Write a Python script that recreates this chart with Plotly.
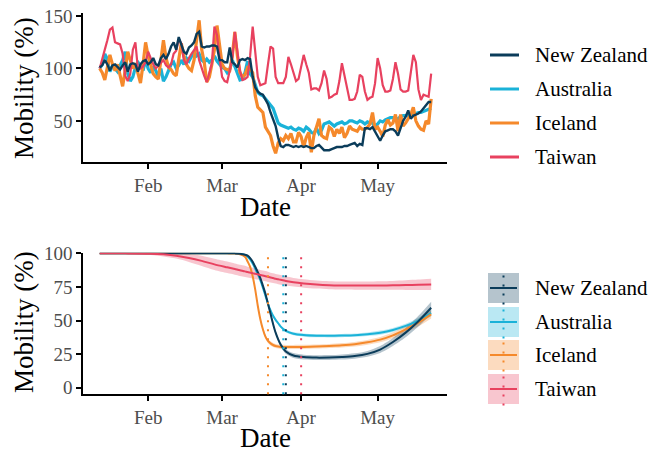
import pandas as pd
import plotly.graph_objects as go

# ---------------- data ----------------
countries = ["New Zealand", "Australia", "Iceland", "Taiwan"]
line_colors = ["#0b3c5a", "#1ab2d8", "#f5892b", "#e8415f"]
fill_colors = ["rgba(11,60,90,0.3)", "rgba(26,178,216,0.3)", "rgba(245,137,43,0.3)", "rgba(232,65,95,0.3)"]

start_date = "2020-01-13"
n_days = 131
dates = pd.date_range(start_date, periods=n_days, freq="D")

mob_nz = [101, 103, 108, 104, 98, 103, 104, 101, 99, 103,
          106, 97, 104, 105, 104, 97, 104, 107, 108, 104,
          106, 110, 104, 103, 110, 113, 109, 114, 121, 125,
          118, 130, 122, 116, 114, 120, 122, 125, 133, 135,
          121, 120, 121, 121, 122, 122, 121, 108, 108, 106,
          106, 120, 106, 104, 101, 108, 109, 108, 110, 109,
          92, 82, 78, 76, 75, 71, 66, 58, 52, 45,
          34, 26, 25, 27, 27, 26, 25, 26, 25, 26,
          25, 26, 25, 24, 24, 26, 27, 24, 22, 22,
          22, 23, 24, 25, 25, 25, 26, 26, 27, 28,
          29, 26, 28, 27, 43, 43, 42, 44, 40, 36,
          31, 36, 40, 41, 42, 42, 40, 36, 44, 50,
          54, 60, 52, 55, 56, 57, 59, 62, 64, 68,
          68]
mob_au = [100, 104, 114, 109, 97, 102, 100, 97, 103, 108,
          116, 95, 88, 92, 101, 106, 103, 98, 108, 100,
          96, 102, 98, 92, 100, 88, 92, 99, 104, 106,
          100, 103, 108, 104, 110, 107, 112, 116, 112, 114,
          108, 106, 109, 106, 108, 112, 107, 104, 101, 100,
          96, 99, 108, 102, 96, 89, 90, 96, 107, 95,
          92, 84, 77, 75, 74, 71, 68, 66, 62, 55,
          48, 46, 45, 44, 43, 44, 42, 41, 43, 42,
          40, 44, 42, 39, 38, 43, 38, 41, 47, 48,
          49, 47, 45, 47, 48, 49, 47, 48, 50, 50,
          49, 48, 50, 49, 47, 49, 48, 48, 45, 47,
          50, 49, 51, 52, 53, 53, 52, 52, 54, 55,
          55, 55, 56, 57, 57, 58, 58, 59, 60, 61,
          62]
mob_ic = [100, 96, 89, 100, 113, 104, 98, 104, 94, 83,
          98, 116, 108, 100, 105, 95, 86, 104, 125, 112,
          104, 95, 92, 90, 108, 127, 110, 101, 99, 95,
          93, 108, 124, 112, 104, 100, 98, 108, 130, 146,
          118, 106, 87, 92, 104, 118, 141, 120, 104, 100,
          99, 98, 112, 135, 112, 96, 92, 94, 101, 100,
          96, 74, 63, 60, 58, 44, 40, 36, 26, 19,
          29, 33, 31, 36, 33, 38, 30, 30, 39, 35,
          25, 34, 39, 20, 36, 44, 52, 36, 34, 33,
          44, 42, 35, 42, 38, 44, 34, 38, 45, 42,
          41, 40, 44, 42, 42, 44, 47, 58, 42, 44,
          40, 35, 46, 51, 46, 48, 56, 40, 56, 45,
          48, 52, 56, 63, 50, 45, 42, 41, 50, 47,
          71]
mob_tw = [100, 108, 118, 127, 137, 139, 125, 124, 123, 114,
          93, 88, 95, 118, 125, 99, 100, 102, 106, 116,
          110, 104, 100, 103, 106, 108, 103, 101, 104, 114,
          117, 128, 124, 108, 104, 110, 114, 118, 121, 108,
          100, 93, 87, 95, 105, 140, 132, 110, 92, 88,
          87, 98, 110, 135, 118, 98, 89, 90, 92, 112,
          140, 118, 92, 84, 85, 86, 104, 121, 119, 92,
          86, 86, 86, 92, 111, 104, 95, 88, 90, 103,
          113, 104, 96, 80, 81, 81, 79, 86, 98, 90,
          72, 73, 75, 76, 88, 105, 93, 79, 70, 70,
          71, 78, 94, 92, 78, 70, 72, 73, 86, 110,
          100, 84, 78, 78, 79, 90, 106, 95, 80, 78,
          78, 79, 96, 113, 106, 80, 70, 75, 74, 73,
          95]

# fitted model (bottom panel), days since start_date
fit_days = [0, 10, 20, 25, 30, 35, 40, 45, 50, 53, 55, 57, 58, 59, 60, 61, 62, 63, 64, 65,
            66, 67, 68, 69, 70, 71, 73, 76, 80, 85, 90, 95, 100, 105, 110, 115, 120, 125, 130]
fit_nz = [100, 100, 100, 100, 100, 100, 100, 100, 100, 100, 99.8, 99, 98.3, 96.5, 93.8, 90, 86, 81.5, 76, 70,
          62.5, 55, 47.5, 41, 36, 32, 27, 24, 22.8, 22.4, 22.5, 22.9, 23.6, 25.2, 28.4, 34, 41, 49.5, 59.5]
fit_au = [100, 100, 100, 100, 100, 100, 100, 100, 100, 100, 99.8, 98.8, 97.5, 95.5, 92.5, 88.5, 84.5, 80, 74.5, 68.5,
          62.5, 57.5, 53.5, 50.5, 48, 45.5, 42.3, 40.2, 39.2, 38.7, 38.6, 38.8, 39.1, 39.8, 41, 43, 46, 50, 55.5]
fit_ic = [100, 100, 100, 100, 100, 100, 100, 100, 100, 99.9, 99.4, 97.5, 94, 90, 83, 73, 61, 51, 43.5, 38,
          34.8, 33, 31.8, 31, 30.6, 30.4, 30.3, 30.3, 30.4, 30.7, 31.1, 31.6, 32.4, 33.8, 35.8, 39, 43.5, 48.5, 54.6]
fit_tw = [100, 100, 99.8, 99.3, 98.3, 96.6, 94.4, 91.8, 89.6, 88.3, 87.4, 86.6, 86.1, 85.7, 85.3, 84.8, 84.4, 83.9, 83.5, 83,
          82.5, 82, 81.6, 81.1, 80.7, 80.3, 79.5, 78.5, 77.6, 76.8, 76.3, 76.1, 76, 76, 76.1, 76.2, 76.4, 76.6, 76.9]
band_nz = [0, 0, 0, 0, 0, 0, 0, 0, 0, 0, 0.2, 0.5, 0.6, 0.8, 1, 1.1, 1.2, 1.3, 1.4, 1.5,
           1.5, 1.5, 1.5, 1.5, 1.5, 1.6, 1.7, 1.8, 1.8, 1.8, 1.8, 1.9, 2, 2.2, 2.6, 3, 3.5, 4, 4.5]
band_au = [0, 0, 0, 0, 0, 0, 0, 0, 0, 0, 0.2, 0.5, 0.6, 0.8, 1, 1, 1, 1, 1, 1,
           1, 1, 1, 1, 1, 1, 1.1, 1.2, 1.2, 1.2, 1.2, 1.2, 1.2, 1.3, 1.5, 1.5, 1.6, 2, 2.5]
band_ic = [0, 0, 0, 0, 0, 0, 0, 0, 0, 0.2, 0.4, 0.8, 1, 1.2, 1.2, 1.2, 1.3, 1.4, 1.5, 1.5,
           1.5, 1.5, 1.5, 1.5, 1.5, 1.5, 1.5, 1.5, 1.5, 1.5, 1.5, 1.6, 1.7, 1.8, 2, 2.2, 2.5, 2.8, 3]
band_tw = [0, 0.3, 1, 1.6, 2.2, 3, 3.8, 4.2, 4.3, 4.2, 4.2, 4.2, 4, 4, 4, 4, 3.8, 3.8, 3.8, 3.8,
           3.8, 3.6, 3.6, 3.6, 3.6, 3.6, 3.4, 3.2, 3.1, 3, 3, 3, 3, 3, 3.1, 3.3, 3.6, 3.9, 4.2]

lockdown_dates = ["2020-03-26", "2020-03-25", "2020-03-19", "2020-04-01"]

month_ticks = ["2020-02-01", "2020-03-01", "2020-04-01", "2020-05-01"]
month_labels = ["Feb", "Mar", "Apr", "May"]
top_yticks = [50, 100, 150]
bottom_yticks = [0, 25, 50, 75, 100]

mobility = [mob_nz, mob_au, mob_ic, mob_tw]
fits = [fit_nz, fit_au, fit_ic, fit_tw]
bands = [band_nz, band_au, band_ic, band_tw]

# ---------------- figure ----------------
W, H = 652, 452
FONT = "Liberation Serif"


def pxx(x):
    return x / W


def pxy(y):
    return 1 - y / H


fit_dates = pd.Timestamp(start_date) + pd.to_timedelta(fit_days, unit="D")

fig = go.Figure()

# top panel lines (draw order: Australia, Iceland, Taiwan, NZ)
top_widths = [2.4, 3.2, 3.2, 2.2]
for i in [1, 2, 3, 0]:
    fig.add_trace(go.Scatter(x=dates, y=mobility[i], mode="lines", name=countries[i],
                             line=dict(color=line_colors[i], width=top_widths[i]),
                             showlegend=False, xaxis="x", yaxis="y"))

# bottom ribbons
for i in [1, 2, 0, 3]:
    lo = [f - b for f, b in zip(fits[i], bands[i])]
    hi = [f + b for f, b in zip(fits[i], bands[i])]
    fig.add_trace(go.Scatter(x=fit_dates, y=lo, mode="lines", line=dict(width=0, shape="spline", smoothing=0.8),
                             showlegend=False, hoverinfo="skip", xaxis="x2", yaxis="y2"))
    fig.add_trace(go.Scatter(x=fit_dates, y=hi, mode="lines", line=dict(width=0, shape="spline", smoothing=0.8),
                             fill="tonexty", fillcolor=fill_colors[i],
                             showlegend=False, hoverinfo="skip", xaxis="x2", yaxis="y2"))
# bottom fitted lines
for i in [1, 2, 0, 3]:
    fig.add_trace(go.Scatter(x=fit_dates, y=fits[i], mode="lines", name=countries[i],
                             line=dict(color=line_colors[i], width=2, shape="spline", smoothing=0.8),
                             showlegend=False, xaxis="x2", yaxis="y2"))

shapes = []
DOT = "2px,7px"
# lockdown vertical dotted lines
for i in range(4):
    shapes.append(dict(type="line", xref="x2", yref="y2 domain", x0=lockdown_dates[i], x1=lockdown_dates[i],
                       y0=0, y1=1, line=dict(color=line_colors[i], width=2, dash=DOT), layer="above"))

annotations = []
# top legend
top_leg_y = [55, 89, 123, 157]
for i in range(4):
    y = top_leg_y[i]
    shapes.append(dict(type="line", xref="paper", yref="paper", x0=pxx(490), x1=pxx(519),
                       y0=pxy(y), y1=pxy(y), line=dict(color=line_colors[i], width=3)))
    annotations.append(dict(x=pxx(533), y=pxy(y), xref="paper", yref="paper", text=countries[i],
                            showarrow=False, xanchor="left", yanchor="middle",
                            font=dict(family=FONT, size=21, color="black")))

# bottom legend
bot_leg_y = [288, 322, 355, 389]
for i in range(4):
    y = bot_leg_y[i]
    shapes.append(dict(type="rect", xref="paper", yref="paper", x0=pxx(488), x1=pxx(519),
                       y0=pxy(y + 15), y1=pxy(y - 15), fillcolor=fill_colors[i], line=dict(width=0)))
    shapes.append(dict(type="line", xref="paper", yref="paper", x0=pxx(503.5), x1=pxx(503.5),
                       y0=pxy(y + 16.5), y1=pxy(y - 16.5), line=dict(color=line_colors[i], width=2, dash=DOT)))
    shapes.append(dict(type="line", xref="paper", yref="paper", x0=pxx(490), x1=pxx(517),
                       y0=pxy(y), y1=pxy(y), line=dict(color=line_colors[i], width=2)))
    annotations.append(dict(x=pxx(533), y=pxy(y), xref="paper", yref="paper", text=countries[i],
                            showarrow=False, xanchor="left", yanchor="middle",
                            font=dict(family=FONT, size=21, color="black")))

# axis titles
for yc in [88, 322]:
    annotations.append(dict(x=pxx(24), y=pxy(yc), xref="paper", yref="paper", text="Mobility (%)",
                            textangle=-90, showarrow=False, xanchor="center", yanchor="middle",
                            font=dict(family=FONT, size=27, color="black")))
for yc in [207, 438]:
    annotations.append(dict(x=pxx(265), y=pxy(yc), xref="paper", yref="paper", text="Date",
                            showarrow=False, xanchor="center", yanchor="middle",
                            font=dict(family=FONT, size=27, color="black")))

x_range = ["2020-01-06 13:40", "2020-05-28 05:00"]
xdom = [pxx(83.3), pxx(447)]
common_x = dict(range=x_range, domain=xdom, tickvals=month_ticks, ticktext=month_labels,
                showline=True, linecolor="black", linewidth=2, ticks="outside", ticklen=5,
                tickwidth=1.5, tickcolor="black", showgrid=False, zeroline=False,
                tickfont=dict(family=FONT, size=19, color="#4d4d4d"), automargin=False)
common_y = dict(showline=True, linecolor="black", linewidth=2, ticks="outside", ticklen=5,
                tickwidth=1.5, tickcolor="black", showgrid=False, zeroline=False,
                tickfont=dict(family=FONT, size=19, color="#4d4d4d"), automargin=False)

fig.update_layout(
    width=W, height=H,
    margin=dict(l=0, r=0, t=0, b=0),
    paper_bgcolor="white", plot_bgcolor="white",
    showlegend=False,
    xaxis=dict(anchor="y", **common_x),
    yaxis=dict(anchor="x", domain=[pxy(161.7), pxy(13.3)], range=[11, 152.7], tickvals=top_yticks, **common_y),
    xaxis2=dict(anchor="y2", **common_x),
    yaxis2=dict(anchor="x2", domain=[pxy(394.3), pxy(252.7)], range=[-4.9, 100.5], tickvals=bottom_yticks, **common_y),
    shapes=shapes,
    annotations=annotations,
    font=dict(family=FONT),
)

fig.write_html("out.html", config={"displayModeBar": False},
               post_script="document.body.style.margin='0px';document.body.style.overflow='hidden';")
